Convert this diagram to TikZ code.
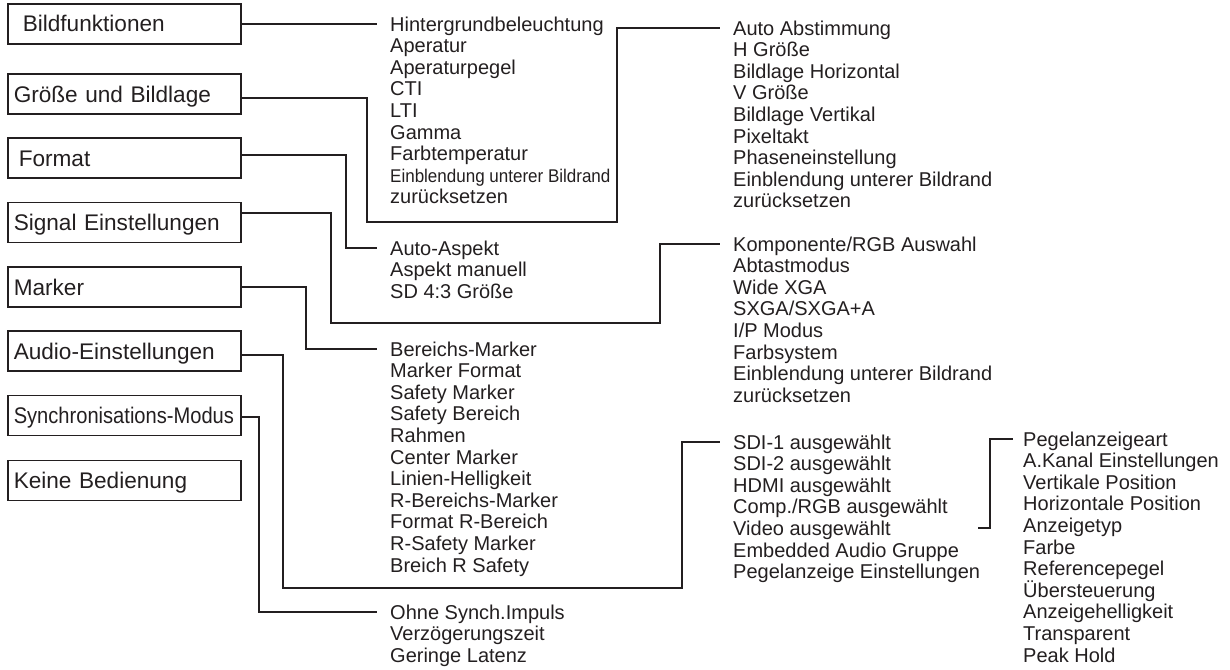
\documentclass[tikz,border=0pt]{standalone}
\usepackage{fontspec}
\setmainfont{Liberation Sans}
\usepackage{tikz}
\usetikzlibrary{positioning}
\definecolor{ink}{HTML}{231F20}

\begin{document}
\begin{tikzpicture}[x=1pt, y=-1pt]
			\tikzstyle{MenuBox}	= [draw=ink, line width=1.5pt, anchor=west, minimum width=233pt, minimum height=40pt, inner xsep=6pt, inner ysep=0pt, text width=221pt, align=left, text height=16pt, text depth=0pt, font=\fontsize{22.6}{26}\selectfont, text=ink]
			\tikzstyle{Entry}	= [anchor=west, inner sep=0pt, text height=14.3pt, text depth=0pt, font=\fontsize{20}{24}\selectfont, text=ink]
			\tikzstyle{Link}	= [draw=ink, line width=2pt, shorten >=13pt]

			\useasboundingbox (0,0) rectangle (1230,669);

			% main menu
			\node (b1) at (7, 24) [MenuBox] {\hspace*{9pt}Bildfunktionen};
			\node (b2) at (7, 94) [MenuBox] {Größe und Bildlage};
			\node (b3) at (7, 158) [MenuBox] {\hspace*{5pt}Format};
			\node (b4) at (7, 222.5) [MenuBox] {Signal Einstellungen};
			\node (b5) at (7, 287) [MenuBox] {Marker};
			\node (b6) at (7, 351) [MenuBox] {Audio-Einstellungen};
			\node (b7) at (7, 415.5) [MenuBox] {\scalebox{0.89}[1]{Synchronisations-Modus}};
			\node (b8) at (7, 480.5) [MenuBox] {Keine Bedienung};

			% sub menus
			\foreach \t [count=\i] in {Hintergrundbeleuchtung, Aperatur, Aperaturpegel, CTI, LTI, Gamma, Farbtemperatur, {\scalebox{0.85}[0.92]{Einblendung unterer Bildrand}}, zurücksetzen}
				\node (bild-\i) at (390, {24+21.6*(\i-1)}) [Entry] {\t};
			\foreach \t [count=\i] in {Auto Abstimmung, H Größe, Bildlage Horizontal, V Größe, Bildlage Vertikal, Pixeltakt, Phaseneinstellung, Einblendung unterer Bildrand, zurücksetzen}
				\node (groesse-\i) at (733, {28+21.6*(\i-1)}) [Entry] {\t};
			\foreach \t [count=\i] in {Auto-Aspekt, Aspekt manuell, SD 4:3 Größe}
				\node (format-\i) at (390, {248+21.6*(\i-1)}) [Entry] {\t};
			\foreach \t [count=\i] in {Komponente/RGB Auswahl, Abtastmodus, Wide XGA, SXGA/SXGA+A, I/P Modus, Farbsystem, Einblendung unterer Bildrand, zurücksetzen}
				\node (signal-\i) at (733, {244+21.6*(\i-1)}) [Entry] {\t};
			\foreach \t [count=\i] in {Bereichs-Marker, Marker Format, Safety Marker, Safety Bereich, Rahmen, Center Marker, Linien-Helligkeit, R-Bereichs-Marker, Format R-Bereich, R-Safety Marker, Breich R Safety}
				\node (marker-\i) at (390, {349+21.6*(\i-1)}) [Entry] {\t};
			\foreach \t [count=\i] in {SDI-1 ausgewählt, SDI-2 ausgewählt, HDMI ausgewählt, Comp./RGB ausgewählt, Video ausgewählt, Embedded Audio Gruppe, Pegelanzeige Einstellungen}
				\node (audio-\i) at (733, {442+21.6*(\i-1)}) [Entry] {\t};
			\foreach \t [count=\i] in {Ohne Synch.Impuls, Verzögerungszeit, Geringe Latenz}
				\node (synch-\i) at (390, {612+21.6*(\i-1)}) [Entry] {\t};
			\foreach \t [count=\i] in {Pegelanzeigeart, A.Kanal Einstellungen, Vertikale Position, Horizontale Position, Anzeigetyp, Farbe, Referencepegel, Übersteuerung, Anzeigehelligkeit, Transparent, Peak Hold}
				\node (pegel-\i) at (1023, {439+21.6*(\i-1)}) [Entry] {\t};
			\coordinate (stub) at (978, 528.4);

			\draw [Link] (b1.east) -- (bild-1.west);
			\draw [Link] ([yshift=-4pt]b2.east) -- ++(125,0) |- (617,222) |- (groesse-1.west);
			\draw [Link] ([yshift=3pt]b3.east) -- ++(104,0) |- (format-1.west);
			\draw [Link] ([yshift=9.5pt]b4.east) -- ++(89,0) |- (660,323) |- (signal-1.west);
			\draw [Link] (b5.east) -- ++(64,0) |- (marker-1.west);
			\draw [Link] ([yshift=-4pt]b6.east) -- ++(41,0) |- (682,588) |- (audio-1.west);
			\draw [Link] ([yshift=-1.5pt]b7.east) -- ++(17,0) |- (synch-1.west);
			\draw [Link, shorten >=10pt] (stub) -- ++(12,0) |- (pegel-1.west);
\end{tikzpicture}
\end{document}
